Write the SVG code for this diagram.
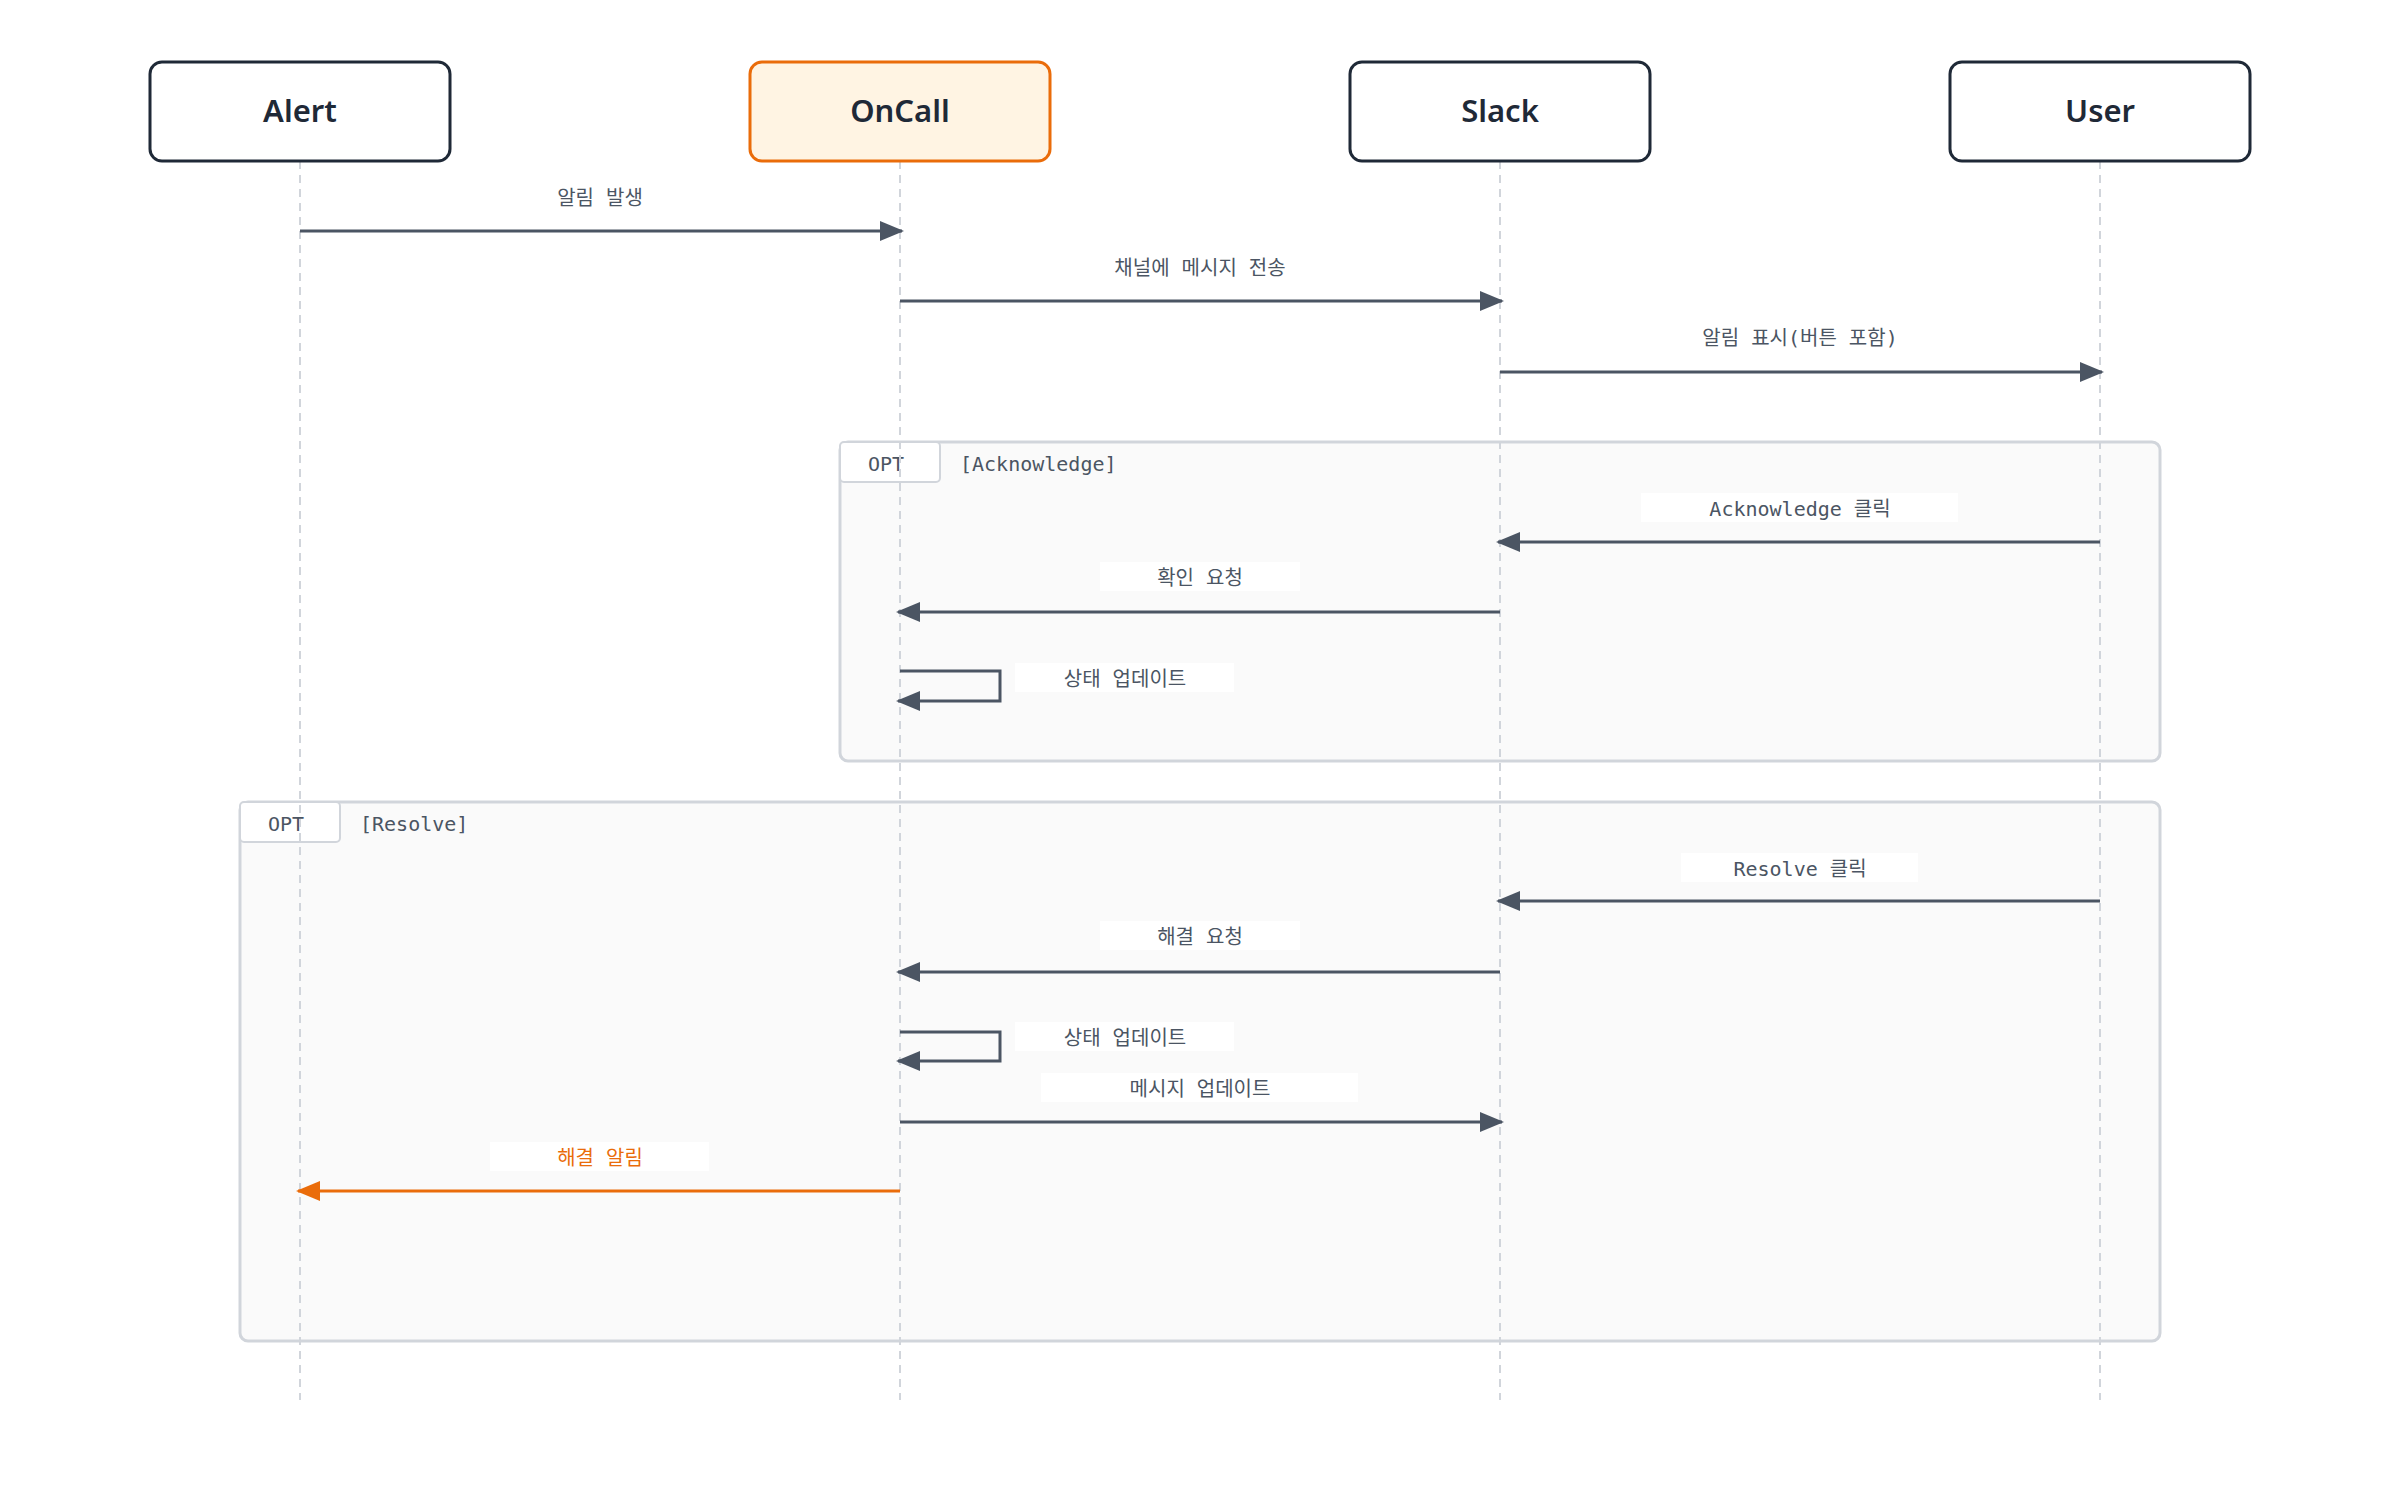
<svg xmlns="http://www.w3.org/2000/svg" width="2400" height="1502" viewBox="0 0 2400 1502">
<style>
.hd{fill:#fff;stroke:#1f2937;stroke-width:3}
.ht{font-family:"Noto Sans","Liberation Sans",sans-serif;font-weight:600;font-size:31px;fill:#1f2937;text-anchor:middle}
.ll{stroke:#d1d5db;stroke-width:2;stroke-dasharray:8 6}
.fr{fill:#fafafa;stroke:#d1d5db;stroke-width:3}
.tab{fill:#fff;stroke:#d1d5db;stroke-width:2}
.mt{font-family:"DejaVu Sans Mono","Liberation Mono","Noto Sans CJK KR",monospace;font-size:20px;fill:#4b5563}
.lb{font-family:"DejaVu Sans Mono","Liberation Mono","Noto Sans CJK KR",monospace;font-size:20px;fill:#4b5563;text-anchor:middle}
.bg{fill:#fff}
.m{stroke:#4b5563;stroke-width:3;fill:none}
</style>
<defs>
<marker id="a" markerWidth="24" markerHeight="20" refX="22" refY="10" orient="auto" markerUnits="userSpaceOnUse" viewBox="0 0 24 20"><path d="M0,0 L24,10 L0,20 Z" fill="#4b5563"/></marker>
<marker id="ao" markerWidth="24" markerHeight="20" refX="22" refY="10" orient="auto" markerUnits="userSpaceOnUse" viewBox="0 0 24 20"><path d="M0,0 L24,10 L0,20 Z" fill="#ea6c0a"/></marker>
</defs>
<rect width="2400" height="1502" fill="#fff"/>
<g id="frames">
<rect class="fr" x="840" y="442" width="1320" height="319" rx="8"/>
<rect class="tab" x="840" y="442" width="100" height="40" rx="4"/>
<text class="mt" x="868" y="471">OPT</text>
<text class="mt" x="960" y="471">[Acknowledge]</text>
<rect class="fr" x="240" y="802" width="1920" height="539" rx="8"/>
<rect class="tab" x="240" y="802" width="100" height="40" rx="4"/>
<text class="mt" x="268" y="831">OPT</text>
<text class="mt" x="360" y="831">[Resolve]</text>
</g>
<g id="lifelines">
<line class="ll" x1="300" y1="161" x2="300" y2="1400"/>
<line class="ll" x1="900" y1="161" x2="900" y2="1400"/>
<line class="ll" x1="1500" y1="161" x2="1500" y2="1400"/>
<line class="ll" x1="2100" y1="161" x2="2100" y2="1400"/>
</g>
<g id="Alert"><rect class="hd" x="150" y="62" width="300" height="99" rx="12"/><text class="ht" x="300" y="122">Alert</text></g>
<g id="OnCall"><rect class="hd" x="750" y="62" width="300" height="99" rx="12" style="fill:#fff4e3;stroke:#ea6c0a"/><text class="ht" x="900" y="122">OnCall</text></g>
<g id="Slack"><rect class="hd" x="1350" y="62" width="300" height="99" rx="12"/><text class="ht" x="1500" y="122">Slack</text></g>
<g id="User"><rect class="hd" x="1950" y="62" width="300" height="99" rx="12"/><text class="ht" x="2100" y="122">User</text></g>
<g id="connectors">
<line class="m" x1="300" y1="231" x2="902" y2="231" marker-end="url(#a)"/>
<line class="m" x1="900" y1="301" x2="1502" y2="301" marker-end="url(#a)"/>
<line class="m" x1="1500" y1="372" x2="2102" y2="372" marker-end="url(#a)"/>
<line class="m" x1="2100" y1="542" x2="1498" y2="542" marker-end="url(#a)"/>
<line class="m" x1="1500" y1="612" x2="898" y2="612" marker-end="url(#a)"/>
<polyline class="m" points="900,671 1000,671 1000,701 898,701" marker-end="url(#a)"/>
<line class="m" x1="2100" y1="901" x2="1498" y2="901" marker-end="url(#a)"/>
<line class="m" x1="1500" y1="972" x2="898" y2="972" marker-end="url(#a)"/>
<polyline class="m" points="900,1032 1000,1032 1000,1061 898,1061" marker-end="url(#a)"/>
<line class="m" x1="900" y1="1122" x2="1502" y2="1122" marker-end="url(#a)"/>
<line x1="900" y1="1191" x2="298" y2="1191" stroke="#ea6c0a" stroke-width="3" marker-end="url(#ao)"/>
</g>
<g id="labels">
<text class="lb" x="600" y="205">알림 발생</text>
<text class="lb" x="1200" y="275">채널에 메시지 전송</text>
<text class="lb" x="1800" y="345">알림 표시(버튼 포함)</text>
<rect class="bg" x="1641" y="493" width="317" height="29"/><text class="lb" x="1800" y="516">Acknowledge 클릭</text>
<rect class="bg" x="1100" y="562" width="200" height="29"/><text class="lb" x="1200" y="585">확인 요청</text>
<rect class="bg" x="1015" y="663" width="219" height="29"/><text class="lb" x="1125" y="686">상태 업데이트</text>
<rect class="bg" x="1681" y="853" width="237" height="29"/><text class="lb" x="1800" y="876">Resolve 클릭</text>
<rect class="bg" x="1100" y="921" width="200" height="29"/><text class="lb" x="1200" y="944">해결 요청</text>
<rect class="bg" x="1015" y="1022" width="219" height="29"/><text class="lb" x="1125" y="1045">상태 업데이트</text>
<rect class="bg" x="1041" y="1073" width="317" height="29"/><text class="lb" x="1200" y="1096">메시지 업데이트</text>
<rect class="bg" x="490" y="1142" width="219" height="29"/><text class="lb" x="600" y="1165" style="fill:#ea6c0a">해결 알림</text>
</g>
</svg>
